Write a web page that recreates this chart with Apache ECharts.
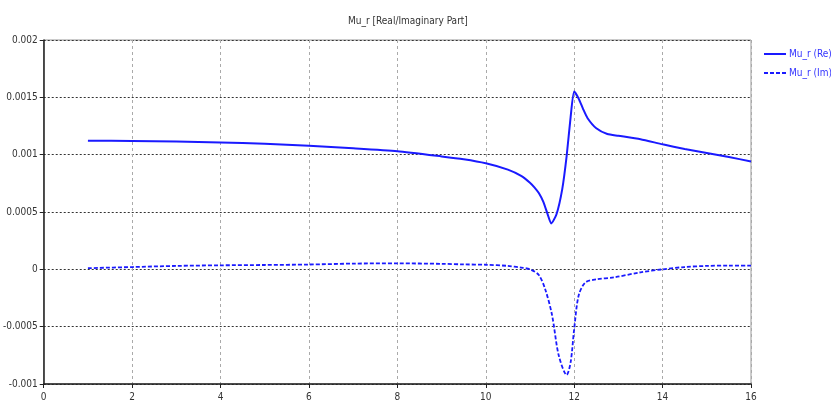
<!DOCTYPE html>
<html>
<head>
<meta charset="utf-8">
<script src="https://cdn.jsdelivr.net/npm/echarts@6/dist/echarts.min.js"></script>
<style>
    html, body { margin: 0; padding: 0; background: #fff; }
    #chart { width: 831px; height: 410px; }
</style>
</head>
<body>
<div id="chart"></div>
<script>
    // Mu_r 实部
    var reFreq = [1, 2, 3, 4, 5, 6, 7, 8, 9, 9.5, 10, 10.5, 10.8, 11, 11.1, 11.2, 11.3, 11.4, 11.48, 11.6, 11.73, 11.83, 11.92, 12.0, 12.1, 12.2, 12.3, 12.5, 12.75, 13, 13.5, 14, 14.5, 15, 15.5, 16]
    var reVal = [0.001122, 0.00112, 0.001115, 0.001107, 0.001095, 0.001078, 0.001056, 0.00103, 0.000985, 0.00096, 0.000925, 0.00087, 0.000815, 0.000755, 0.000715, 0.000665, 0.00059, 0.00048, 0.0004, 0.00048, 0.0007, 0.00099, 0.00133, 0.00155, 0.00149, 0.0014, 0.00132, 0.00123, 0.00118, 0.001165, 0.001135, 0.00109, 0.00105, 0.001015, 0.00098, 0.00094]
    // Mu_r 虚部
    var imFreq = [1, 2, 3, 4, 5, 6, 7, 8, 9, 9.5, 10, 10.5, 10.8, 11, 11.2, 11.35, 11.5, 11.65, 11.83, 11.92, 12.0, 12.1, 12.25, 12.5, 12.9, 13.5, 14, 14.5, 15, 15.5, 16]
    var imVal = [0.00001, 0.00002, 0.00003, 0.000035, 0.000038, 0.000042, 0.00005, 0.000052, 0.000048, 0.000043, 0.00004, 0.00003, 0.000015, 0, -0.00005, -0.00018, -0.0004, -0.00075, -0.00092, -0.00081, -0.00052, -0.00023, -0.000116, -0.000087, -0.00007, -0.000026, 0, 0.00002, 0.00003, 0.000033, 0.000033]
    var xTicks = [0, 2, 4, 6, 8, 10, 12, 14, 16]
    var yTicks = [-0.001, -0.0005, 0, 0.0005, 0.001, 0.0015, 0.002]

    function pairs(xs, ys) {
        return xs.map(function (x, i) { return [x, ys[i]] })
    }

    var myChart = echarts.init(document.getElementById('chart'))
    myChart.setOption({
        animation: false,
        title: {
            text: 'Mu_r [Real/Imaginary Part]',
            left: 343,
            top: 11,
            textStyle: { fontSize: 10, fontWeight: 'normal', color: '#333', fontFamily: 'DejaVu Sans Condensed' }
        },
        legend: {
            orient: 'vertical',
            left: 758,
            top: 44,
            itemWidth: 22,
            itemHeight: 8,
            itemGap: 9,
            itemStyle: { opacity: 0 },
            textStyle: { fontSize: 10, color: '#3333ff', fontFamily: 'DejaVu Sans Condensed', padding: [0, 0, 0, -2] },
            data: ['Mu_r (Re)', 'Mu_r (Im)']
        },
        grid: {
            left: 42,
            right: 80,
            top: 40,
            bottom: 26,
            show: true,
            borderColor: '#999',
            borderWidth: 1
        },
        xAxis: {
            type: 'value',
            min: 0,
            max: 16,
            interval: 2,
            axisLine: { onZero: false, lineStyle: { color: '#222', width: 1.5 } },
            axisTick: { show: true, length: 4, lineStyle: { color: '#222' } },
            axisLabel: { fontSize: 10, color: '#333', margin: 8, fontFamily: 'DejaVu Sans Condensed',
                formatter: function (v) { return xTicks.indexOf(v) >= 0 ? String(v) : '' } },
            splitLine: { show: true, lineStyle: { color: '#aaa', type: [3, 3] } }
        },
        yAxis: {
            type: 'value',
            min: -0.001,
            max: 0.002,
            interval: 0.0005,
            axisLine: { show: true, onZero: false, lineStyle: { color: '#222', width: 1.5 } },
            axisTick: { show: true, length: 4, lineStyle: { color: '#222' } },
            axisLabel: { fontSize: 10, color: '#333', margin: 6, fontFamily: 'DejaVu Sans Condensed',
                formatter: function (v) {
                    var r = Math.round(v * 10000) / 10000
                    return String(r)
                } },
            splitLine: { show: true, lineStyle: { color: '#333', type: [2, 2] } }
        },
        series: [
            {
                name: 'Mu_r (Re)',
                type: 'line',
                data: pairs(reFreq, reVal),
                smooth: 0.2,
                symbol: 'none',
                lineStyle: { color: '#1a1aff', width: 2 },
                itemStyle: { color: '#1a1aff' }
            },
            {
                name: 'Mu_r (Im)',
                type: 'line',
                data: pairs(imFreq, imVal),
                smooth: 0.3,
                symbol: 'none',
                lineStyle: { color: '#1a1aff', width: 1.8, type: [4, 2] },
                itemStyle: { color: '#1a1aff' }
            }
        ]
    })
</script>
</body>
</html>
